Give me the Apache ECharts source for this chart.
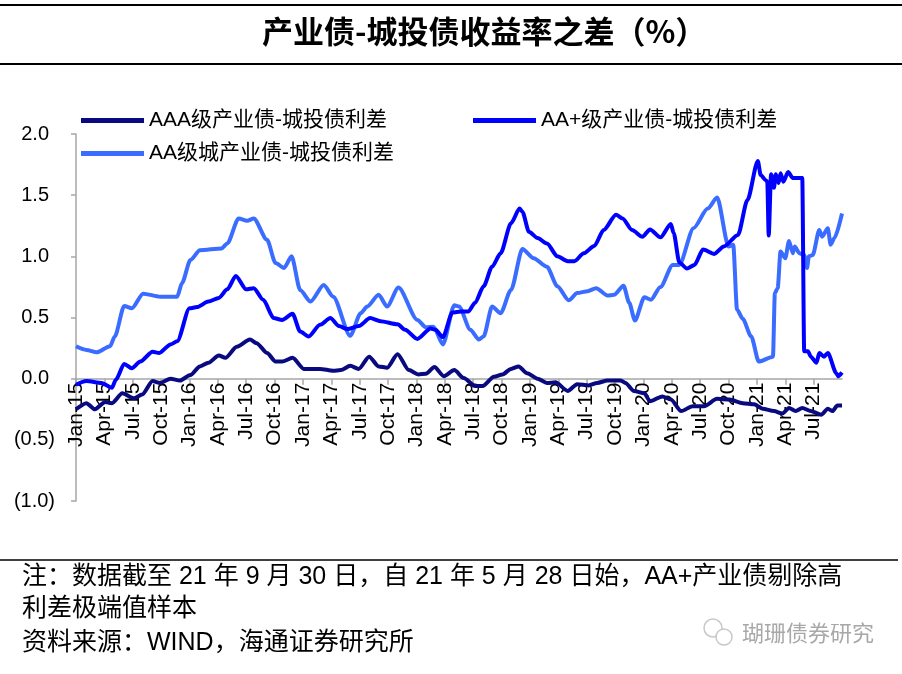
<!DOCTYPE html>
<html>
<head>
<meta charset="utf-8">
<script src="https://cdn.jsdelivr.net/npm/echarts@6/dist/echarts.min.js"></script>
<style>
  html, body { margin: 0; padding: 0; background: #fff; }
  #chart { width: 902px; height: 674px; }
</style>
</head>
<body>
<div id="chart"></div>
<script>
// x positions are months since Jan-2015 (0 = Jan-15, 81 = Oct-21)
var tickMonths = ['Jan', 'Apr', 'Jul', 'Oct'];

var aaaMonth = [0, 1.1, 2, 3.1, 3.8, 4.9, 6.1, 7, 8.1, 8.9, 10, 11, 12.1, 13.1, 14, 15.1, 15.8, 17, 18.4, 19.1,
    20.2, 21.1, 21.8, 22.9, 24.1, 25.8, 27.2, 28, 29, 29.9, 31, 32, 32.9, 34, 35.2, 36.2, 37, 37.9, 38.9, 40,
    41, 42.2, 43, 44.2, 45.1, 46, 46.8, 47.7, 48.8, 49.8, 50.7, 52, 53, 54.2, 55.1, 56.2, 57.6, 58.1, 59, 60.1,
    60.7, 62, 62.9, 64, 65.2, 66.4, 67.8, 69.1, 70.5, 71.7, 72.6, 73.8, 74.7, 75.4, 76.1, 76.8, 77.7, 78.8, 79.5, 80,
    80.5, 81];
var aaaValue = [-0.25, -0.20, -0.25, -0.19, -0.20, -0.12, -0.16, -0.13, -0.02, -0.035, 0, -0.015, 0.03, 0.10, 0.13, 0.19, 0.17, 0.26, 0.32, 0.29,
    0.21, 0.14, 0.14, 0.17, 0.08, 0.08, 0.065, 0.07, 0.105, 0.08, 0.18, 0.10, 0.09, 0.20, 0.07, 0.035, 0.04, 0.095, 0.02, 0.07,
    0.005, -0.06, -0.06, 0.015, 0.035, 0.08, 0.10, 0.045, 0, -0.035, -0.03, -0.10, -0.045, -0.055, -0.035, -0.015, -0.015, -0.035, -0.10, -0.12,
    -0.185, -0.145, -0.17, -0.265, -0.225, -0.225, -0.165, -0.17, -0.20, -0.21, -0.245, -0.265, -0.285, -0.24, -0.265, -0.24, -0.265, -0.295, -0.245, -0.265,
    -0.22, -0.22];

var aaPlusMonth = [0, 1.1, 2.7, 3.8, 4.2, 5.1, 5.9, 6.8, 8.1, 8.8, 10, 10.7, 12, 12.8, 14, 15.1, 16, 16.9, 18, 18.8,
    19.8, 20.9, 21.8, 22.9, 23.7, 24.6, 25.8, 26.9, 27.8, 28.7, 29.9, 31.1, 32.2, 34, 34.8, 36.1, 37.5, 38, 38.8, 39.8,
    40.7, 41.5, 42.2, 43.1, 44, 44.9, 46, 46.9, 47.2, 47.9, 48.8, 49.8, 50.9, 52, 52.7, 53.7, 54.8, 55.8, 57.1, 57.8,
    58.8, 59.9, 60.7, 61.8, 62.9, 63.2, 63.8, 64.6, 65.4, 66.3, 67.5, 68.5, 70, 71, 72.1, 72.4, 72.9, 73.1, 73.25, 73.5,
    73.8, 74, 74.3, 74.5, 74.8, 75.3, 75.8, 76.8, 77, 77.4, 77.7, 78.3, 78.6, 79.1, 79.5, 80.4, 80.6, 81];
var aaPlusValue = [-0.05, -0.02, -0.035, -0.075, -0.01, 0.12, 0.085, 0.14, 0.22, 0.21, 0.28, 0.305, 0.575, 0.585, 0.63, 0.66, 0.73, 0.84, 0.73, 0.74,
    0.645, 0.495, 0.48, 0.53, 0.385, 0.345, 0.44, 0.495, 0.43, 0.405, 0.43, 0.495, 0.47, 0.445, 0.40, 0.325, 0.41, 0.40, 0.34, 0.54,
    0.55, 0.55, 0.62, 0.755, 0.915, 1.025, 1.27, 1.39, 1.365, 1.20, 1.15, 1.105, 1.0, 0.96, 0.96, 1.025, 1.085, 1.215, 1.34, 1.31,
    1.215, 1.16, 1.22, 1.155, 1.265, 1.19, 0.95, 0.90, 0.93, 1.055, 1.02, 1.08, 1.175, 1.46, 1.78, 1.665, 1.625, 1.61, 1.17, 1.67,
    1.56, 1.67, 1.60, 1.68, 1.61, 1.69, 1.64, 1.64, 0.225, 0.225, 0.18, 0.13, 0.21, 0.18, 0.21, 0.045, 0.02, 0.05];

var aaMonth = [0, 1.1, 2.2, 3.6, 4.1, 5.1, 5.9, 7.1, 8.9, 10.7, 11.2, 12.1, 13.1, 15.4, 16, 17.2, 18.1, 18.8, 20.2, 21.1,
    22, 22.8, 23.7, 24.8, 26.2, 27.2, 29, 30.1, 30.8, 32, 32.9, 34.1, 36.1, 37, 37.8, 38.8, 40, 40.5, 41.7, 42.6,
    43.1, 44, 44.9, 46, 47.2, 48.4, 49.8, 50.9, 52.1, 53, 54.1, 55, 56.2, 56.9, 57.9, 58.5, 59.1, 60.1, 60.8, 61.8,
    63.1, 63.8, 65.3, 66.8, 67.8, 69, 69.5, 69.9, 70.5, 71.4, 72.2, 73.7, 73.9, 74.2, 74.5, 75, 75.4, 75.8, 76, 76.5,
    77, 77.3, 77.5, 77.9, 78.6, 78.9, 79.5, 79.8, 80.2, 81];
var aaValue = [0.265, 0.235, 0.215, 0.265, 0.345, 0.595, 0.575, 0.695, 0.67, 0.67, 0.78, 0.97, 1.05, 1.065, 1.105, 1.31, 1.29, 1.31, 1.135, 0.945,
    0.905, 1.0, 0.725, 0.63, 0.765, 0.67, 0.35, 0.535, 0.59, 0.685, 0.59, 0.745, 0.48, 0.42, 0.425, 0.28, 0.60, 0.59, 0.40, 0.32,
    0.345, 0.59, 0.535, 0.725, 1.06, 0.985, 0.915, 0.755, 0.64, 0.70, 0.715, 0.74, 0.68, 0.685, 0.76, 0.62, 0.475, 0.665, 0.645, 0.75,
    0.93, 0.93, 1.23, 1.39, 1.48, 1.08, 1.095, 0.565, 0.49, 0.345, 0.14, 0.18, 0.70, 0.74, 1.04, 0.985, 1.125, 1.025, 1.08, 1.025,
    1.01, 0.905, 1.0, 1.01, 1.215, 1.16, 1.23, 1.095, 1.15, 1.35];

var names = ['AAA级产业债-城投债利差', 'AA+级产业债-城投债利差', 'AA级城产业债-城投债利差'];
var colors = ['#0a0a80', '#0000ff', '#3a6cff'];

function pairs(xs, ys) {
    return xs.map(function (x, i) { return [x, ys[i]]; });
}

var latin = '"Liberation Sans", Arial, "Noto Sans CJK SC", sans-serif';
var gridTop = 134, gridBottom = 173, yMin = -1, yMax = 2;

(function(){
	var myChart = echarts.init(document.getElementById('chart'));

	// place the category line on y = 0 by shifting it up from the grid bottom
	var plotH = 674 - gridTop - gridBottom;
	var zeroShift = plotH * (0 - yMin) / (yMax - yMin);

	var lineSeries = function (idx, data) {
	    return {
	        name: names[idx],
	        type: 'line',
	        data: data,
	        showSymbol: false,
	        smooth: 0.25,
	        smoothMonotone: 'x',
	        z: 3 - idx,
	        lineStyle: { width: 4, color: colors[idx] },
	        itemStyle: { color: colors[idx] }
	    };
	};

	var legendBase = {
	    icon: 'rect',
	    itemWidth: 63,
	    itemHeight: 5,
	    itemGap: 4,
	    textStyle: { fontSize: 21, color: '#000', fontFamily: latin }
	};

	var noteFont = '25px ' + latin;

	option = {
	    animation: false,
	    backgroundColor: '#fff',
	    color: colors,
	    legend: [
	        Object.assign({ left: 76, top: 105, data: [names[0]] }, legendBase),
	        Object.assign({ left: 468, top: 105, data: [names[1]] }, legendBase),
	        Object.assign({ left: 76, top: 138, data: [names[2]] }, legendBase)
	    ],
	    grid: { left: 76, right: 60, top: gridTop, bottom: gridBottom },
	    xAxis: {
	        type: 'value',
	        min: 0,
	        max: 81,
	        interval: 3,
	        position: 'bottom',
	        offset: -zeroShift,
	        splitLine: { show: false },
	        axisLine: { onZero: false, lineStyle: { color: '#a6a6a6', width: 1.5 } },
	        axisTick: { length: 6, lineStyle: { color: '#a6a6a6', width: 1.5 } },
	        axisLabel: {
	            rotate: 90,
	            margin: 4,
	            fontSize: 21,
	            color: '#000',
	            fontFamily: latin,
	            showMaxLabel: false,
	            formatter: function (m) {
	                if (m >= 81) return '';
	                return tickMonths[(m / 3) % 4] + '-' + (15 + Math.floor(m / 12));
	            }
	        }
	    },
	    yAxis: {
	        type: 'value',
	        min: yMin,
	        max: yMax,
	        interval: 0.5,
	        splitLine: { show: false },
	        axisLine: { show: true, onZero: false, lineStyle: { color: '#a6a6a6', width: 1.5 } },
	        axisTick: { show: true, length: 5, lineStyle: { color: '#a6a6a6', width: 1.5 } },
	        axisLabel: {
	            fontSize: 20,
	            margin: 21,
	            color: '#000',
	            fontFamily: latin,
	            formatter: function (v) {
	                return v < 0 ? '(' + Math.abs(v).toFixed(1) + ')' : '{p|' + v.toFixed(1) + '}';
	            },
	            rich: { p: { fontSize: 20, fontFamily: latin, color: '#000', padding: [0, 6, 0, 0] } }
	        }
	    },
	    graphic: [
	        { type: 'line', shape: { x1: 0, y1: 5, x2: 902, y2: 5 }, style: { stroke: '#000', lineWidth: 2 } },
	        { type: 'line', shape: { x1: 0, y1: 64, x2: 902, y2: 64 }, style: { stroke: '#000', lineWidth: 2 } },
	        { type: 'line', shape: { x1: 0, y1: 560, x2: 898, y2: 560 }, style: { stroke: '#000', lineWidth: 1.5 } },
	        {
	            type: 'text', left: 262, top: 16,
	            style: { text: '产业债-城投债收益率之差（%）', font: 'bold 31px "Noto Sans CJK SC", sans-serif', fill: '#000' }
	        },
	        {
	            type: 'text', left: 22, top: 565,
	            style: { text: '注：数据截至 21 年 9 月 30 日，自 21 年 5 月 28 日始，AA+产业债剔除高', font: noteFont, fill: '#000' }
	        },
	        {
	            type: 'text', left: 22, top: 597,
	            style: { text: '利差极端值样本', font: noteFont, fill: '#000' }
	        },
	        {
	            type: 'text', left: 22, top: 631,
	            style: { text: '资料来源：WIND，海通证券研究所', font: noteFont, fill: '#000' }
	        },
	        { type: 'circle', shape: { cx: 713, cy: 628, r: 9 }, style: { stroke: '#c8c8c8', fill: 'none', lineWidth: 1.5 } },
	        { type: 'circle', shape: { cx: 724, cy: 637, r: 8 }, style: { stroke: '#c8c8c8', fill: '#fff', lineWidth: 1.5 } },
	        {
	            type: 'text', left: 742, top: 622,
	            style: { text: '瑚珊债券研究', font: '22px "Noto Sans CJK SC", sans-serif', fill: '#a8a8a8' }
	        }
	    ],
	    series: [
	        lineSeries(0, pairs(aaaMonth, aaaValue)),
	        lineSeries(1, pairs(aaPlusMonth, aaPlusValue)),
	        lineSeries(2, pairs(aaMonth, aaValue))
	    ]
	};

	myChart.setOption(option);
})();
</script>
</body>
</html>
